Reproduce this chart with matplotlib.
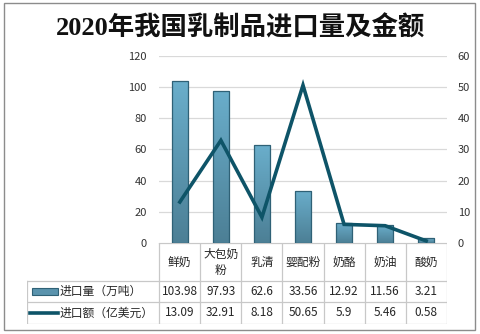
import numpy as np
import matplotlib
matplotlib.use("Agg")
import matplotlib.pyplot as plt
from matplotlib.patches import Rectangle
from matplotlib.colors import LinearSegmentedColormap

plt.rcParams['font.family'] = ['Noto Sans CJK SC', 'DejaVu Sans']

title = "2020年我国乳制品进口量及金额"
categories = ["鲜奶", "大包奶\n粉", "乳清", "婴配粉", "奶酪", "奶油", "酸奶"]
volume = [103.98, 97.93, 62.6, 33.56, 12.92, 11.56, 3.21]      # 万吨
amount = [13.09, 32.91, 8.18, 50.65, 5.9, 5.46, 0.58]          # 亿美元
volume_labels = ["103.98", "97.93", "62.6", "33.56", "12.92", "11.56", "3.21"]
amount_labels = ["13.09", "32.91", "8.18", "50.65", "5.9", "5.46", "0.58"]
series_names = ["进口量（万吨）", "进口额（亿美元）"]
left_ticks = [0, 20, 40, 60, 80, 100, 120]
right_ticks = [0, 10, 20, 30, 40, 50, 60]

W, H = 481, 334
fig = plt.figure(figsize=(W / 100, H / 100), dpi=100)

def px(x0, y0, x1, y1):
    return [x0 / W, 1 - y1 / H, (x1 - x0) / W, (y1 - y0) / H]

# outer frame
frame = fig.add_axes([0, 0, 1, 1])
frame.set_xlim(0, W); frame.set_ylim(H, 0); frame.axis("off")
frame.add_patch(Rectangle((4.5, 2.5), 471, 327, fill=False, ec="#8c8c8c", lw=1.0))

fig.text(241 / W, 1 - 28 / H, title, ha="center", va="center", fontsize=19,
         family=['Liberation Serif', 'Noto Sans CJK SC'], weight="bold",
         color="#111111")

PL, PR, PT, PB = 159.3, 446.7, 56.2, 242.7
ax = fig.add_axes(px(PL, PT, PR, PB))
n = len(categories)
x = np.arange(n)
ax.set_xlim(-0.5, n - 0.5)
ax.set_ylim(0, 120)
ax.set_yticks(left_ticks)
ax.grid(axis="y", color="#d9d9d9", lw=0.9)
ax.set_axisbelow(True)
for s in ax.spines.values():
    s.set_visible(False)
ax.set_xticks([])
ax.tick_params(axis="y", length=0, pad=9, labelsize=8, labelcolor="#333333")

cmap = LinearSegmentedColormap.from_list("bar", ["#4c7f95", "#6aaecb"])
grad = np.linspace(0, 1, 256).reshape(-1, 1)
bw = 0.4
bars = ax.bar(x, volume, width=bw, color="none", edgecolor="#2f6176", lw=0.9, zorder=3)
for b in bars:
    x0, y0, w, h = b.get_x(), b.get_y(), b.get_width(), b.get_height()
    im = ax.imshow(grad, cmap=cmap, origin="lower", aspect="auto",
                   extent=[x0, x0 + w, y0, y0 + h], zorder=2)
    im.set_clip_path(b)
ax.set_xlim(-0.5, n - 0.5)
ax.set_ylim(0, 120)

ax2 = ax.twinx()
ax2.set_ylim(0, 60)
ax2.set_yticks(right_ticks)
for s in ax2.spines.values():
    s.set_visible(False)
ax2.tick_params(axis="y", length=0, pad=8, labelsize=8, labelcolor="#333333")
line_color = "#0e5468"
ax2.plot(x, amount, color=line_color, lw=2.6, solid_joinstyle="miter", zorder=4)

# data table below the plot
TL, TB = 27.3, 324.0
rows_y = [PB, 280.7, 301.7, TB]
tab = fig.add_axes(px(TL, PB, PR, TB))
u = (PR - PL) / n
xl = -0.5 - (PL - TL) / u
tab.set_xlim(xl, n - 0.5)
tab.set_ylim(TB, PB)
tab.axis("off")
gc = "#c8c8c8"
for xe in np.arange(n + 1) - 0.5:
    tab.plot([xe, xe], [PB, TB], color=gc, lw=0.9)
tab.plot([xl, xl], [rows_y[1], TB], color=gc, lw=0.9)
tab.plot([-0.5, n - 0.5], [PB, PB], color=gc, lw=0.9)
for yy in rows_y[1:]:
    tab.plot([xl, n - 0.5], [yy, yy], color=gc, lw=0.9)

tc = "#262626"
for i, c in enumerate(categories):
    tab.text(i, (rows_y[0] + rows_y[1]) / 2 + 1, c, ha="center", va="center",
             fontsize=8.5, color=tc, linespacing=1.3)
    tab.text(i, (rows_y[1] + rows_y[2]) / 2, volume_labels[i], ha="center",
             va="center", fontsize=8.5, color=tc)
    tab.text(i, (rows_y[2] + rows_y[3]) / 2, amount_labels[i], ha="center",
             va="center", fontsize=8.5, color=tc)

# legend keys inside the table
k0 = xl + 4.5 / u
k1 = xl + 31 / u
ym1 = (rows_y[1] + rows_y[2]) / 2
kr = Rectangle((k0, ym1 - 3.5), k1 - k0, 7, transform=tab.transData,
               fc="#5a93ad", ec="#2f6176", lw=0.8)
tab.add_patch(kr)
ym2 = (rows_y[2] + rows_y[3]) / 2
tab.plot([xl + 3 / u, k1], [ym2, ym2], color=line_color, lw=2.6)
tab.text(k1 + 0.02, ym1, series_names[0], ha="left", va="center", fontsize=8.5, color=tc)
tab.text(k1 + 0.02, ym2, series_names[1], ha="left", va="center", fontsize=8.5, color=tc)

fig.savefig("out.png", dpi=100)
